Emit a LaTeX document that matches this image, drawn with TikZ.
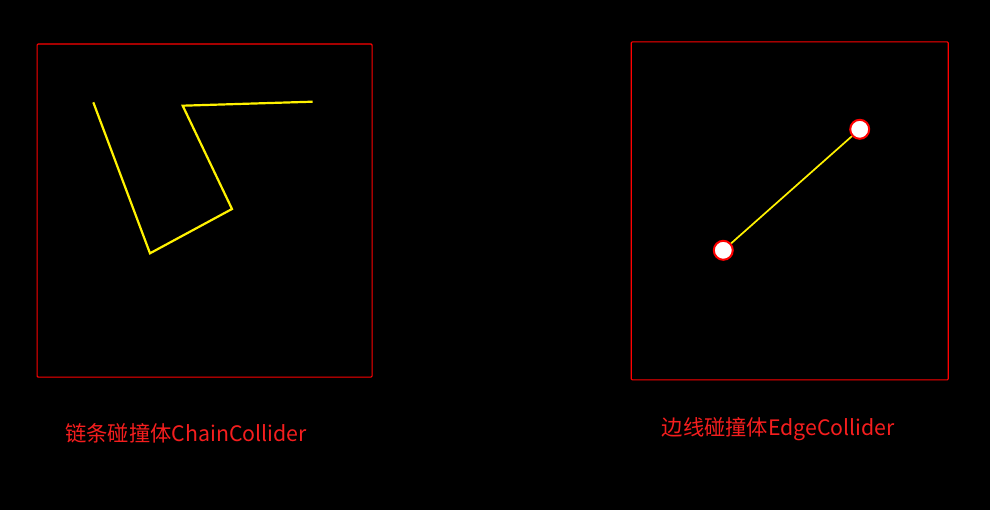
\documentclass[tikz,border=0pt]{standalone}
\usepackage{fontspec}
\newfontfamily\cjk{Noto Sans CJK SC}
\definecolor{captionred}{RGB}{245,30,30}
\begin{document}
\begin{tikzpicture}[x=1pt,y=-1pt,
  frame/.style={draw=red,line width=1.1pt,rounded corners=1pt},
  chain/.style={draw=yellow,line width=2.2pt,line join=miter},
  edgeline/.style={draw=yellow,line width=1.7pt},
  endpt/.style={circle,draw=red,fill=white,line width=2pt,minimum size=19pt,inner sep=0pt},
  caption/.style={text=captionred,font=\cjk\fontsize{21.3}{24}\selectfont,inner sep=0pt,anchor=west}]
\fill[black] (0,0) rectangle (990,510);
\useasboundingbox (0,0) rectangle (990,510);
% left panel
\node[frame,minimum width=335pt,minimum height=333pt,anchor=north west] (boxL) at (36.5,43.5) {};
\coordinate (c1) at (93.3,102.3);
\coordinate (c2) at (150,253.3);
\coordinate (c3) at (232,209);
\coordinate (c4) at (182.7,105.7);
\coordinate (c5) at (312.7,101.7);
\draw[chain] (c1) -- (c2) -- (c3) -- (c4) -- (c5);
\node[caption] (capL) at (65,433) {链条碰撞体ChainCollider};
% right panel
\node[frame,minimum width=317pt,minimum height=338pt,anchor=north west] (boxR) at (630.7,41.3) {};
\node[endpt] (p1) at (723.3,250.3) {};
\node[endpt] (p2) at (859.7,129.3) {};
\draw[edgeline] (p1) -- (p2);
\node[caption] (capR) at (661.5,429) {边线碰撞体EdgeCollider};
\end{tikzpicture}
\end{document}
